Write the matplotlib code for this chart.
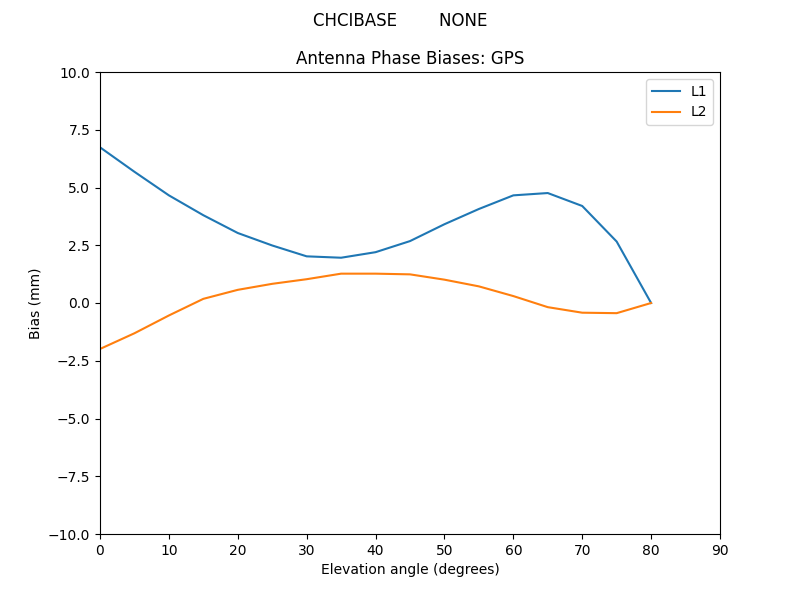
import matplotlib
matplotlib.use("Agg")
import matplotlib.pyplot as plt

elevation = [0, 5, 10, 15, 20, 25, 30, 35, 40, 45, 50, 55, 60, 65, 70, 75, 80]
l1_bias = [6.74, 5.68, 4.66, 3.80, 3.03, 2.49, 2.02, 1.96, 2.20, 2.68, 3.41, 4.07, 4.66, 4.76, 4.20, 2.66, 0.0]
l2_bias = [-1.99, -1.31, -0.54, 0.18, 0.57, 0.83, 1.03, 1.27, 1.27, 1.24, 1.01, 0.72, 0.30, -0.18, -0.42, -0.44, 0.0]

fig, ax = plt.subplots(figsize=(8, 6), dpi=100)
ax.plot(elevation, l1_bias, label="L1")
ax.plot(elevation, l2_bias, label="L2")
ax.set_xlim(0, 90)
ax.set_ylim(-10, 10)
ax.set_xlabel("Elevation angle (degrees)")
ax.set_ylabel("Bias (mm)")
ax.set_title("Antenna Phase Biases: GPS")
fig.suptitle("CHCIBASE        NONE")
ax.legend(loc="upper right")
fig.savefig("out.png", dpi=100)
